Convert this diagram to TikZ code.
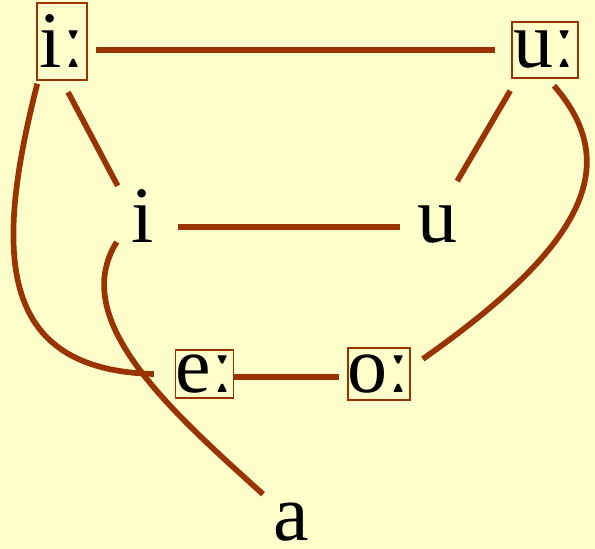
\documentclass[tikz,border=0pt]{standalone}
\usepackage{fontspec}
\setmainfont{Liberation Serif}
\usepackage{tikz}
\usetikzlibrary{positioning, calc}
\usepackage{xcolor}
\definecolor{vline}{RGB}{153,51,0}
\definecolor{paper}{RGB}{255,255,204}
\newcommand{\vowelfont}{\fontsize{80}{96}\selectfont}
\tikzset{
    longv/.style={rectangle, draw=vline, line width=1.4pt, inner sep=0pt, font=\vowelfont},
    shortv/.style={inner sep=0pt, anchor=base, font=\vowelfont},
    link/.style={draw=vline, line width=5.7pt}
}

\begin{document}
\begin{tikzpicture}[x=1pt, y=1pt]
        \useasboundingbox (0,0) rectangle (595,-549);
        \fill[paper] (0,0) rectangle (595,-549);
        \node[longv, minimum width=50pt, minimum height=77pt] (iL) at (62,-41.5) {iː};
        \node[longv, minimum width=66pt, minimum height=56pt] (uL) at (545,-50) {uː};
        \node[longv, minimum width=57pt, minimum height=48pt] (eL) at (204.5,-374) {eː};
        \node[longv, minimum width=58pt, minimum height=52pt] (oL) at (379,-374) {oː};
        \node[shortv] (i) at (143,-242) {i};
        \node[shortv] (u) at (437,-242) {u};
        \node[shortv] (a) at (291,-540) {a};
        \draw[link, shorten <=16pt, shorten >=8pt] (uL.west) -- (uL.west -| iL.east);
        \draw[link, shorten <=13pt] (iL.south) -- ([shift={(-14pt,3pt)}]i.north west);
        \draw[link, shorten <=14pt] ([xshift=6pt]uL.south west) -- ([yshift=24pt]u.north east);
        \draw[link, shorten <=24pt, shorten >=17pt] ([yshift=15pt]i.base east) -- ([yshift=15pt]u.base west);
        \draw[link, shorten >=8pt] ([yshift=-3pt]eL.east) -- ([yshift=-3pt]oL.west);
        \draw[link] ([shift={(9pt,-7pt)}]uL.south) .. controls (623,-165) and (585,-245) .. ([shift={(12pt,15pt)}]oL.east);
        \draw[link] ([shift={(1pt,-3pt)}]iL.south west) .. controls (-5,-250) and (-5,-370) .. ([xshift=-21pt]eL.west);
        \draw[link] ([xshift=-15pt]i.base west) .. controls (68,-320) and (170,-410) .. ([shift={(-10pt,8pt)}]a.north west);
    \end{tikzpicture}
\end{document}
